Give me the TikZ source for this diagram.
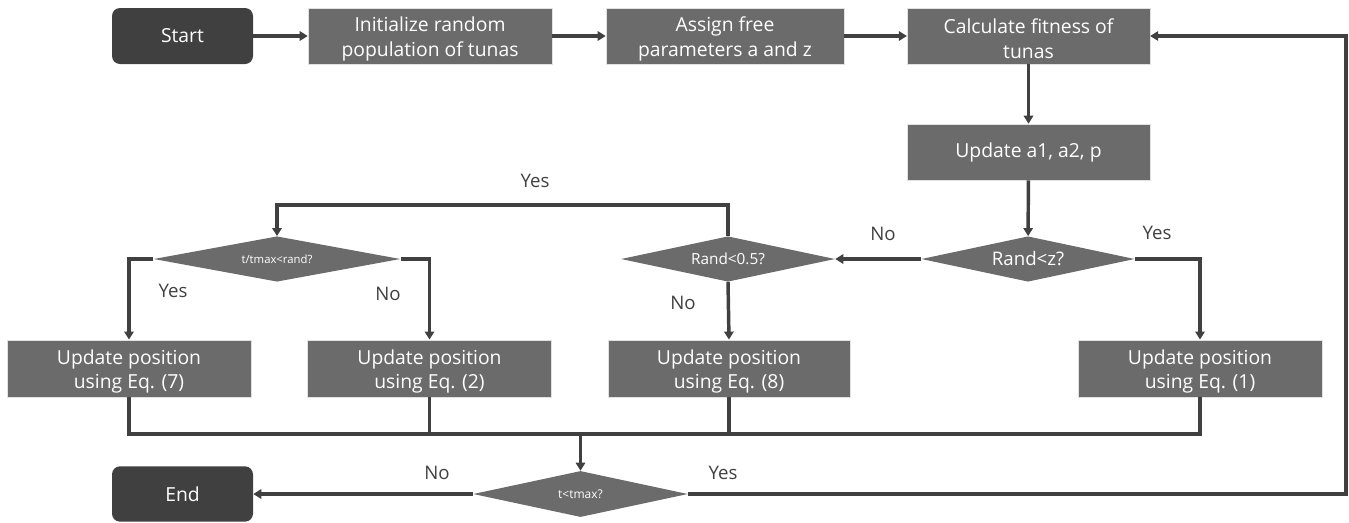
\documentclass[tikz,border=0pt]{standalone}
\usepackage{fontspec}
\setmainfont{Open Sans}
\usetikzlibrary{shapes.geometric,arrows.meta}
\definecolor{boxgray}{HTML}{6B6B6B}
\definecolor{darkgray}{HTML}{404040}
\definecolor{linegray}{HTML}{404040}
\newcommand{\topstrut}{\rule{0pt}{15.5pt}}
\begin{document}
\begin{tikzpicture}[x=0.75pt,y=-0.75pt,
  proc/.style={rectangle,fill=boxgray,draw=white!80!boxgray,line width=0.4pt,text=white,inner sep=0pt,align=center,font=\fontsize{14.5}{18.5}\selectfont},
  term/.style={rectangle,rounded corners=6pt,fill=darkgray,text=white,inner sep=0pt,minimum width=105.75pt,minimum height=42pt,font=\fontsize{14.5}{18}\selectfont},
  dec/.style={diamond,fill=boxgray,text=white,inner sep=0pt,aspect=4,align=center},
  conn/.style={draw=linegray,line width=2.6pt},
  arr/.style={conn,-{Triangle[length=6pt,width=7pt]}},
  lbl/.style={text=darkgray,font=\fontsize{14}{16}\selectfont}]
\useasboundingbox (0,0) rectangle (1349,522);

\node[term] (start) at (182.5,36) {Start};
\node[proc,minimum width=183pt,minimum height=42pt] (init) at (430,36) {\topstrut Initialize random\\population of tunas};
\node[proc,minimum width=178.5pt,minimum height=42pt] (assign) at (725,36) {\topstrut Assign free\\parameters a and z};
\node[proc,minimum width=182pt,minimum height=42pt] (calc) at (1028.5,36) {\topstrut Calculate fitness of\\tunas};
\node[proc,minimum width=182pt,minimum height=42pt] (upd) at (1028.5,152) {Update a1, a2, p};

\node[dec,minimum width=160pt,minimum height=34pt,font=\fontsize{14}{16}\selectfont] (randz) at (1028,259) {Rand<z?};
\node[dec,minimum width=160.5pt,minimum height=34pt,font=\fontsize{11.5}{14}\selectfont] (rand05) at (728,259) {Rand<0.5?};
\node[dec,minimum width=185pt,minimum height=34pt,font=\fontsize{8.5}{10}\selectfont] (tt) at (277,259) {t/tmax<rand?};

\node[proc,minimum width=183pt,minimum height=43pt] (u1) at (1200,368.5) {\topstrut Update position\\using Eq. (1)};
\node[proc,minimum width=181.5pt,minimum height=43pt] (u8) at (729,368.5) {\topstrut Update position\\using Eq. (8)};
\node[proc,minimum width=183pt,minimum height=43pt] (u7) at (129,368.5) {\topstrut Update position\\using Eq. (7)};
\node[proc,minimum width=183pt,minimum height=43pt] (u2) at (429.5,368.5) {\topstrut Update position\\using Eq. (2)};

\node[dec,minimum width=161pt,minimum height=34.5pt,font=\fontsize{9}{11}\selectfont] (ttmax) at (580.5,494) {t<tmax?};
\node[term,minimum height=41.5pt] (end) at (182.5,494) {End};

\coordinate (m) at (580.5,434);
\coordinate (yb) at (728,205);
\coordinate (lp) at (1346,494);

% top row
\draw[arr] (start) -- (init);
\draw[arr] (init) -- (assign);
\draw[arr] (assign) -- (calc);
\draw[arr] (calc) -- (upd);
\draw[arr] (upd) -- (randz);

% Rand<z branches
\draw[arr] (randz.west) -- (rand05.east);
\draw[arr] (randz.east) -| (u1.north);

% Rand<0.5 branches
\draw[arr] (rand05.north) -- (yb) -| (tt.north);
\draw[arr] (rand05.south) -- (u8.north);

% t/tmax branches
\draw[arr] (tt.west) -| (u7.north);
\draw[arr] (tt.east) -| (u2.north);

% merge
\draw[conn] (u7.south) -- (u7.south |- m) -- (u1.south |- m) -- (u1.south);
\draw[conn] (u2.south) -- (u2.south |- m);
\draw[conn] (u8.south) -- (u8.south |- m);
\draw[arr] (m) -- (ttmax.north);

% end / loop
\draw[arr] (ttmax.west) -- (end.east);
\draw[arr] (ttmax.east) -- (lp) |- (calc.east);

% labels
\node[lbl] (l1) at (535,181) {Yes};
\node[lbl] (l2) at (883,234) {No};
\node[lbl] (l3) at (1157,233) {Yes};
\node[lbl] (l4) at (683,303) {No};
\node[lbl] (l5) at (173,291) {Yes};
\node[lbl] (l6) at (388,294) {No};
\node[lbl] (l7) at (437,473) {No};
\node[lbl] (l8) at (723,473) {Yes};
\end{tikzpicture}
\end{document}
